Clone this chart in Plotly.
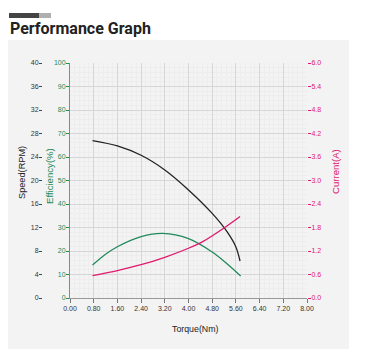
import plotly.graph_objects as go

# Data
speed_torque = [0.76, 1.60, 2.40, 3.20, 4.00, 4.80, 5.30, 5.60, 5.74]
speed_rpm = [26.8, 25.9, 24.3, 21.8, 18.4, 14.4, 11.3, 8.7, 6.3]

eff_torque = [0.76, 1.20, 1.60, 2.40, 3.13, 4.00, 4.80, 5.30, 5.76]
eff_pct = [14.0, 18.6, 21.8, 26.1, 27.5, 25.3, 19.6, 14.6, 9.4]

cur_torque = [0.76, 1.60, 2.40, 3.20, 4.00, 4.48, 5.30, 5.74]
cur_amp = [0.57, 0.70, 0.85, 1.04, 1.27, 1.44, 1.84, 2.08]

x_ticks = [0.0, 0.8, 1.6, 2.4, 3.2, 4.0, 4.8, 5.6, 6.4, 7.2, 8.0]
x_tick_labels = ["0.00", "0.80", "1.60", "2.40", "3.20", "4.00", "4.80", "5.60", "6.40", "7.20", "8.00"]
speed_ticks = [0, 4, 8, 12, 16, 20, 24, 28, 32, 36, 40]
eff_ticks = [0, 10, 20, 30, 40, 50, 60, 70, 80, 90, 100]
cur_ticks = [0.0, 0.6, 1.2, 1.8, 2.4, 3.0, 3.6, 4.2, 4.8, 5.4, 6.0]

# page has an 8px body margin; the figure is sized so it ends at the window edge
OFF = 8
W, H = 365 - OFF, 356 - OFF


def X(px):
    return (px - OFF) / W


def Y(py):
    return 1 - (py - OFF) / H


L, R = 70, 307
T, B = 63, 298

BLACK = "#222222"
GREEN = "#1f8a5a"
RED = "#e0186e"
TICKFONT = "Liberation Sans"
TITLEFONT = "Liberation Sans"

fig = go.Figure()
fig.add_trace(go.Scatter(x=eff_torque, y=eff_pct, mode="lines",
                         line=dict(color=GREEN, width=1.3, shape="spline", smoothing=0.9),
                         yaxis="y", hoverinfo="skip"))
fig.add_trace(go.Scatter(x=speed_torque, y=speed_rpm, mode="lines",
                         line=dict(color=BLACK, width=1.3, shape="spline", smoothing=0.9),
                         yaxis="y2", hoverinfo="skip"))
fig.add_trace(go.Scatter(x=cur_torque, y=cur_amp, mode="lines",
                         line=dict(color=RED, width=1.3, shape="spline", smoothing=0.9),
                         yaxis="y3", hoverinfo="skip"))

fig.update_layout(
    width=W, height=H,
    margin=dict(l=0, r=0, t=0, b=0, pad=0, autoexpand=False),
    paper_bgcolor="white",
    plot_bgcolor="white",
    showlegend=False,
    xaxis=dict(domain=[X(L), X(R)], range=[0, 8], tickvals=x_ticks, ticktext=x_tick_labels, automargin=False,
               showgrid=True, gridcolor="#d6d6d6", gridwidth=1,
               minor=dict(dtick=0.16, tick0=0, showgrid=True, gridcolor="#ededed", gridwidth=1),
               showline=True, linecolor="#999999", linewidth=1,
               ticks="outside", ticklen=4, tickcolor="#777777",
               tickfont=dict(family=TICKFONT, size=7, color="#333333"),
               zeroline=False, fixedrange=True),
    yaxis=dict(domain=[Y(B), Y(T)], range=[0, 100], tickvals=eff_ticks, anchor="x", automargin=False,
               showgrid=True, gridcolor="#d6d6d6", gridwidth=1,
               minor=dict(dtick=2, tick0=0, showgrid=True, gridcolor="#ededed", gridwidth=1),
               showline=True, linecolor="#888888", linewidth=1,
               ticks="outside", ticklen=3, tickcolor=GREEN, ticklabelstandoff=-1,
               tickfont=dict(family=TICKFONT, size=7, color=GREEN),
               zeroline=False, fixedrange=True),
    yaxis2=dict(range=[0, 40], tickvals=speed_ticks, overlaying="y", side="left", anchor="free",
                position=X(42), showgrid=False, showline=False, automargin=False,
                ticks="outside", ticklen=3, tickcolor="#444444", ticklabelstandoff=-1,
                tickfont=dict(family=TICKFONT, size=7, color="#333333"),
                zeroline=False, fixedrange=True),
    yaxis3=dict(range=[0, 6], tickvals=cur_ticks, tickformat=".1f", overlaying="y", side="right", anchor="free",
                position=X(R), showgrid=False, showline=False, automargin=False,
                ticks="outside", ticklen=3, tickcolor=RED, ticklabelstandoff=-1,
                tickfont=dict(family=TICKFONT, size=7, color=RED),
                zeroline=False, fixedrange=True),
)

shapes = [
    # light gray panel
    dict(type="rect", xref="paper", yref="paper", x0=X(8), x1=X(349), y0=Y(349), y1=Y(40),
         fillcolor="#f3f3f3", line=dict(width=0), layer="below"),
    # decorative bar
    dict(type="rect", xref="paper", yref="paper", x0=X(38), x1=X(51), y0=Y(18), y1=Y(13),
         fillcolor="#b0b0b0", line=dict(width=0)),
    dict(type="rect", xref="paper", yref="paper", x0=X(9), x1=X(39), y0=Y(18), y1=Y(13),
         fillcolor="#444444", line=dict(width=0)),
]
fig.update_layout(shapes=shapes)

annotations = [
    dict(text="<b>Performance Graph</b>", x=X(8), y=Y(29), xref="paper", yref="paper",
         xanchor="left", yanchor="middle", showarrow=False,
         font=dict(family="Roboto", size=16, color="#222222")),
    dict(text="Speed(RPM)", x=X(22), y=Y(173), xref="paper", yref="paper", textangle=-90,
         xanchor="center", yanchor="middle", showarrow=False,
         font=dict(family=TITLEFONT, size=9.2, color="#222222")),
    dict(text="Efficiency(%)", x=X(49), y=Y(176), xref="paper", yref="paper", textangle=-90,
         xanchor="center", yanchor="middle", showarrow=False,
         font=dict(family=TITLEFONT, size=9.6, color=GREEN)),
    dict(text="Current(A)", x=X(335), y=Y(172), xref="paper", yref="paper", textangle=-90,
         xanchor="center", yanchor="middle", showarrow=False,
         font=dict(family=TITLEFONT, size=9.6, color=RED)),
    dict(text="Torque(Nm)", x=X(195), y=Y(329), xref="paper", yref="paper",
         xanchor="center", yanchor="middle", showarrow=False,
         font=dict(family=TITLEFONT, size=8.8, color="#222222")),
]
fig.update_layout(annotations=annotations)

fig.write_html("out.html", config={"displayModeBar": False})
